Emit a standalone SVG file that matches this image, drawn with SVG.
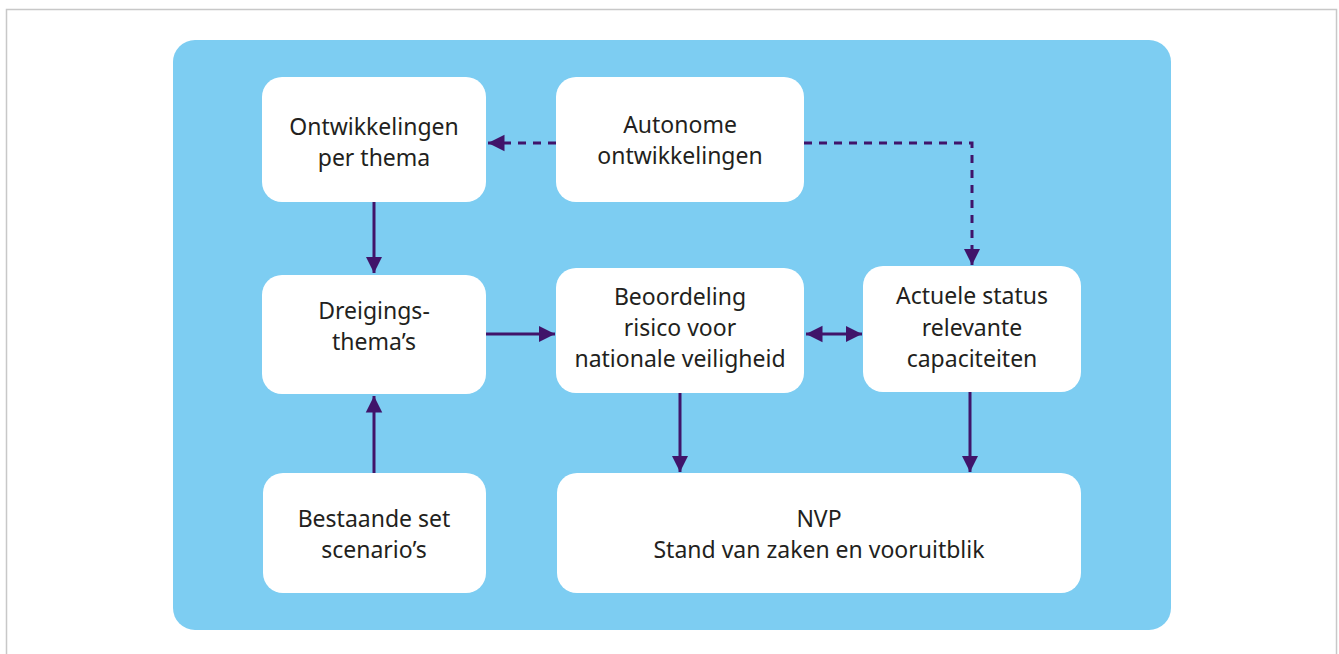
<svg xmlns="http://www.w3.org/2000/svg" width="1339" height="654" viewBox="0 0 1339 654">
<defs>
<style>
.frame{fill:#ffffff;stroke:#c8c8c8;stroke-width:1.5}
.panel{fill:#7dcdf2}
.box{fill:#ffffff}
.lbl{font-family:"Noto Sans","Open Sans",sans-serif;font-size:23px;fill:#231f20;text-anchor:middle}
.ln{stroke:#40146a;stroke-width:3;fill:none}
.dash{stroke-dasharray:8 7}
</style>
<marker id="ah" viewBox="0 0 10 10" refX="10" refY="5" markerWidth="5.5" markerHeight="6" markerUnits="strokeWidth" orient="auto-start-reverse">
<path d="M0,0 L10,5 L0,10 Z" fill="#40146a"/>
</marker>
</defs>
<rect class="frame" x="6.5" y="9.5" width="1330" height="700"/>
<rect class="panel" x="173" y="40" width="998" height="590" rx="22"/>

<g id="connectors">
<path class="ln dash" d="M556,143 H488" marker-end="url(#ah)"/>
<path class="ln dash" d="M804,143 H972 V265" marker-end="url(#ah)"/>
<path class="ln" d="M374,202 V273" marker-end="url(#ah)"/>
<path class="ln" d="M486,334 H555" marker-end="url(#ah)"/>
<path class="ln" d="M806,334 H862" marker-start="url(#ah)" marker-end="url(#ah)"/>
<path class="ln" d="M374,473 V396" marker-end="url(#ah)"/>
<path class="ln" d="M680,393 V472" marker-end="url(#ah)"/>
<path class="ln" d="M970,392 V472" marker-end="url(#ah)"/>
</g>

<g id="ontwikkelingen-per-thema">
<rect class="box" x="262" y="77" width="224" height="125" rx="20"/>
<text class="lbl" x="374" y="135">Ontwikkelingen</text>
<text class="lbl" x="374" y="166">per thema</text>
</g>
<g id="autonome-ontwikkelingen">
<rect class="box" x="556" y="77" width="248" height="125" rx="20"/>
<text class="lbl" x="680" y="133">Autonome</text>
<text class="lbl" x="680" y="164">ontwikkelingen</text>
</g>
<g id="dreigingsthemas">
<rect class="box" x="262" y="275" width="224" height="119" rx="20"/>
<text class="lbl" x="374" y="319">Dreigings-</text>
<text class="lbl" x="374" y="350">thema’s</text>
</g>
<g id="beoordeling">
<rect class="box" x="556" y="268" width="248" height="125" rx="20"/>
<text class="lbl" x="680" y="305">Beoordeling</text>
<text class="lbl" x="680" y="336">risico voor</text>
<text class="lbl" x="680" y="367">nationale veiligheid</text>
</g>
<g id="actuele-status">
<rect class="box" x="863" y="266" width="218" height="126" rx="20"/>
<text class="lbl" x="972" y="304">Actuele status</text>
<text class="lbl" x="972" y="336">relevante</text>
<text class="lbl" x="972" y="367">capaciteiten</text>
</g>
<g id="bestaande-set">
<rect class="box" x="263" y="473" width="223" height="120" rx="20"/>
<text class="lbl" x="374" y="527">Bestaande set</text>
<text class="lbl" x="374" y="558">scenario’s</text>
</g>
<g id="nvp">
<rect class="box" x="557" y="473" width="524" height="120" rx="20"/>
<text class="lbl" x="819" y="527">NVP</text>
<text class="lbl" x="819" y="558">Stand van zaken en vooruitblik</text>
</g>
</svg>
